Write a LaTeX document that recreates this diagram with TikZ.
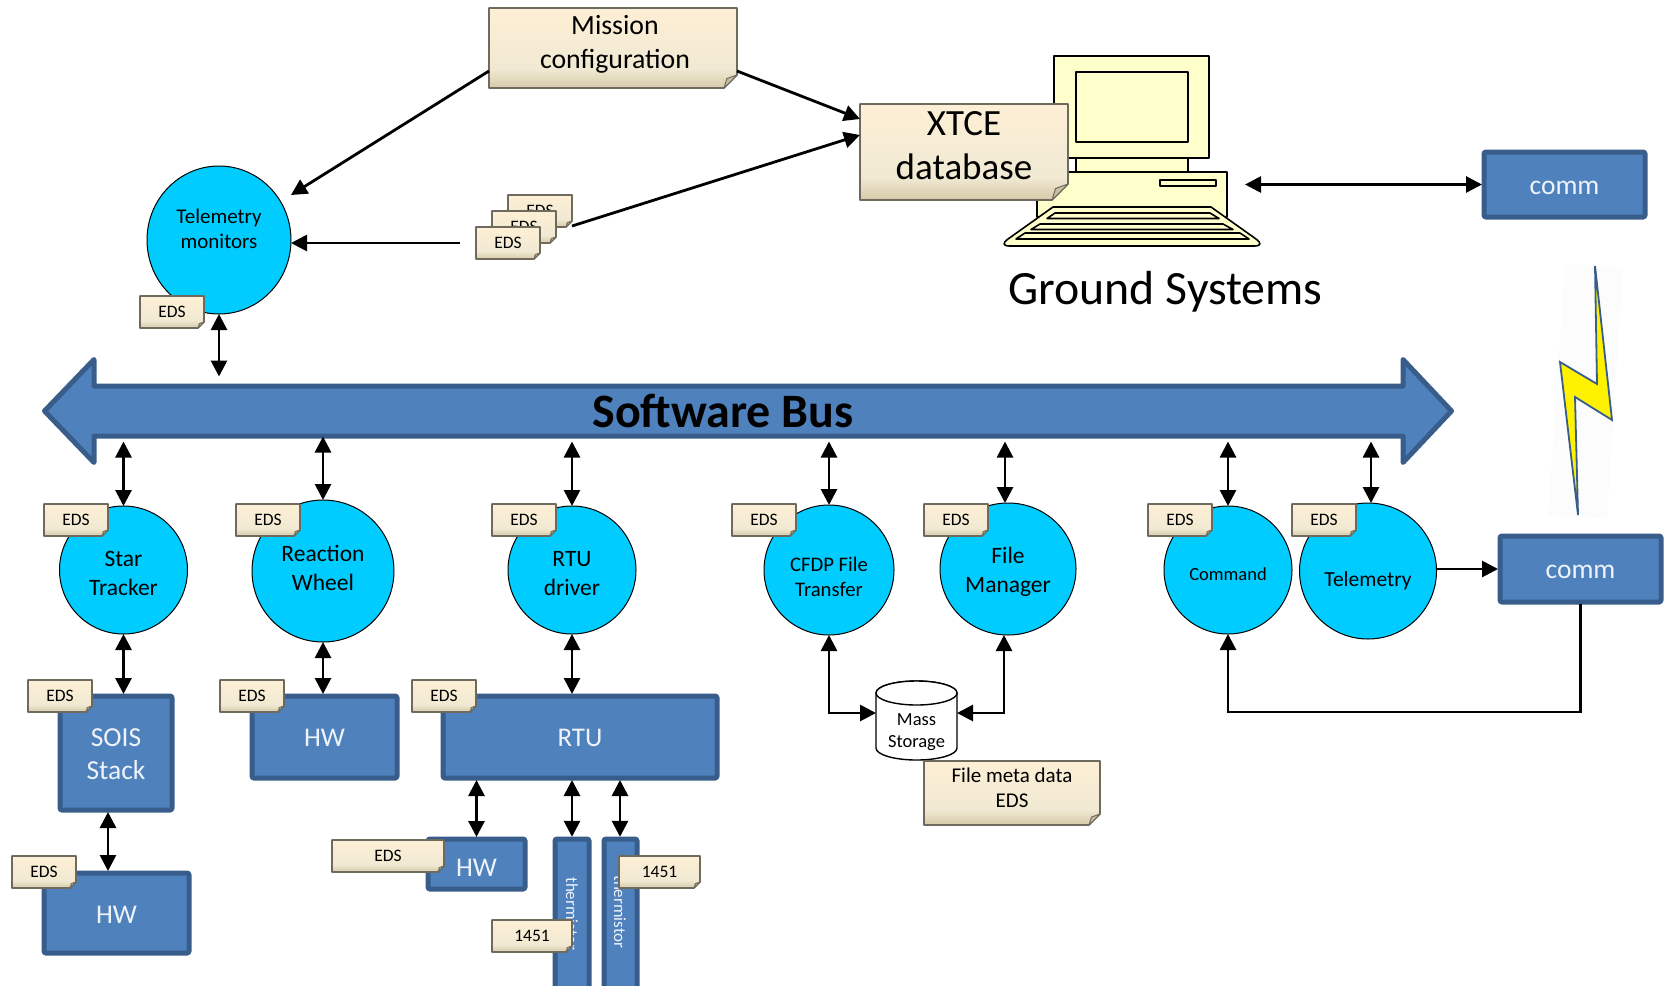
\documentclass[tikz,border=0pt]{standalone}
\usepackage{fontspec}
\setmainfont{Carlito}
\usetikzlibrary{arrows.meta,calc,shapes.geometric}
\definecolor{noteA}{HTML}{FDEFD5}
\definecolor{noteB}{HTML}{F1E9D3}
\definecolor{noteC}{HTML}{D5CAA8}
\definecolor{noteEdge}{HTML}{6F6A5E}
\definecolor{foldC}{HTML}{C9C0A2}
\definecolor{boxFill}{HTML}{4F81BD}
\definecolor{boxEdge}{HTML}{385D8A}
\definecolor{procFill}{HTML}{00CCFF}
\definecolor{pcFill}{HTML}{FFFFCC}
\definecolor{boltBg}{HTML}{FCFCFC}
\definecolor{boxText}{HTML}{EEF3FA}
\pgfdeclareverticalshading{notefill}{100bp}{color(0bp)=(noteC); color(25bp)=(noteC); color(37bp)=(noteB); color(75bp)=(noteA); color(100bp)=(noteA)}
\tikzset{
  bi/.style={line width=2.8pt,{Triangle[length=16pt,width=16pt]}-{Triangle[length=16pt,width=16pt]}},
  uni/.style={line width=2.8pt,-{Triangle[length=16pt,width=16pt]}},
  notepath/.style={shading=notefill,draw=noteEdge,line width=1.6pt,line join=round},
  foldpath/.style={fill=foldC,draw=noteEdge,line width=1pt,line join=round},
  notetext/.style={inner sep=0pt,outer sep=0pt,align=center,text=black},
  proc/.style={ellipse,draw=black,line width=1pt,fill=procFill,inner sep=0pt,outer sep=0pt},
  proclabel/.style={inner sep=0pt,outer sep=0pt,align=center,text=black},
  bluebox/.style={draw=boxEdge,fill=boxFill,line width=5pt,rounded corners=1.5pt,line join=round},
  boxlabel/.style={inner sep=0pt,outer sep=0pt,align=center,text=boxText},
  pc/.style={fill=pcFill,draw=black,line width=1.6pt,line join=round},
}
\def\noteoff{0}
\def\noteoffx{0}
% name, x0,y0,x1,y1, fold, font size, line gap, text
\newcommand\notebox[9]{%
  \path[notepath] (#2,#3) -- (#4,#3) -- (#4,{#5-#6}) -- ({#4-#6},#5) -- (#2,#5) -- cycle;
  \path[foldpath] (#4,{#5-#6}) -- ({#4-#6},#5) -- ({#4-0.78*#6},{#5-0.72*#6}) -- cycle;
  \node[notetext,minimum width={(#4-#2)*1pt},minimum height={(#5-#3)*1pt}] (#1) at ({(#2+#4)/2},{(#3+#5)/2}) {};
  \node[notetext,font=\fontsize{#7}{#8}\selectfont] (#1l) at ({(#2+#4)/2+\noteoffx},{(#3+#5)/2+\noteoff}) {#9};
}
% name, x0,y0,x1,y1, font size, line gap, text offset, text
\newcommand\blueboxat[9]{%
  \path[bluebox] ({#2+2},{#3+2}) rectangle ({#4-2},{#5-2});
  \node[boxlabel,minimum width={(#4-#2)*1pt},minimum height={(#5-#3)*1pt}] (#1) at ({(#2+#4)/2},{(#3+#5)/2}) {};
  \node[boxlabel,font=\fontsize{#6}{#7}\selectfont] (#1l) at ({(#2+#4)/2},{(#3+#5)/2+#8}) {#9};
}
% name, cx,cy, rx,ry, font size, line gap, text offset, text
\newcommand\procat[9]{%
  \node[proc,minimum width={2*#4*1pt},minimum height={2*#5*1pt}] (#1) at (#2,#3) {};
  \node[proclabel,font=\fontsize{#6}{#7}\selectfont] (#1l) at (#2,{#3+#8}) {#9};
}
\begin{document}
\begin{tikzpicture}[x=1pt,y=-1pt]
\useasboundingbox (0,0) rectangle (1667,985);
% computer
\path[pc] (1037,172) rectangle (1227,217);
\path[pc] (1076,158) rectangle (1188,172);
\path[pc] (1054,56) rectangle (1209,158);
\path[pc] (1076,72) rectangle (1188,142);
\path[pc] (1160,180) rectangle (1216,186);
\path[pc] (1053,207) -- (1211,207) -- (1256,239) .. controls (1262,243.5) and (1261,246) .. (1254,246) -- (1010,246) .. controls (1003,246) and (1002,243.5) .. (1008,239) -- cycle;
\path[pc] (1055,213) -- (1210,213) -- (1219,218.5) -- (1047,218.5) -- cycle;
\path[pc] (1040,224) -- (1223,224) -- (1233,229.5) -- (1031,229.5) -- cycle;
\path[pc] (1025,233) -- (1240,233) -- (1249,239) -- (1016,239) -- cycle;
\node[inner sep=0pt,font=\fontsize{47.8}{54}\selectfont] (gs) at (1165.5,291.5) {Ground Systems};
% lightning
\path[fill=boltBg] (1565,264) -- (1623,268) -- (1607,518) -- (1548,516) -- cycle;
\path[fill=yellow,draw=boxEdge,line width=1.8pt,line join=miter] (1595,266) -- (1612,420) -- (1575,397) -- (1578,515) -- (1560,362) -- (1597,384) -- cycle;
% notes top
\def\noteoff{-3.5}
\def\noteoffx{2}
\notebox{mission}{489}{8}{737}{88}{13}{27.8}{34}{Mission\\configuration}
\def\noteoffx{0}
\def\noteoff{-6.5}
\notebox{xtce}{860}{104}{1068}{200}{16}{37}{44.5}{XTCE\\database}
\def\noteoff{0}
\notebox{edsc}{508}{195}{572}{227}{6}{17.5}{21}{EDS}
\notebox{edsb}{492}{211}{556}{243}{6}{17.5}{21}{EDS}
\notebox{edsa}{476}{227}{540}{259}{6}{17.5}{21}{EDS}
% bus
\path[draw=boxEdge,fill=boxFill,line width=5pt,line join=round]
  (44.5,411) -- (94,359.5) -- (94,386) -- (1403,386) -- (1403,359.5) -- (1451.5,411) -- (1403,462.5) -- (1403,436) -- (94,436) -- (94,462.5) -- cycle;
\node[inner sep=0pt,outer sep=0pt,minimum width=1305pt,minimum height=52pt,font=\fontsize{48}{54}\selectfont\bfseries,text=black] (bus) at (723,410.5) {Software Bus};
% processes
\procat{tm}{219}{240}{72}{74}{21}{25.5}{-11}{Telemetry\\monitors}
\procat{star}{123.5}{570}{64}{64}{23.5}{29.3}{3.7}{Star\\Tracker}
\procat{rw}{323}{571}{71}{71}{23.5}{29}{-3}{Reaction\\Wheel}
\procat{rtud}{572}{570}{64}{64}{23.5}{29.3}{3.7}{RTU\\driver}
\procat{cfdp}{829}{570}{65}{65}{20.7}{25.5}{7}{CFDP File\\Transfer}
\procat{fm}{1008}{569}{68}{66}{23.5}{29}{3}{File\\Manager}
\procat{cmd}{1228}{570}{64}{64}{18.5}{22}{4}{Command}
\procat{tlm}{1368}{571}{68.5}{68}{21.5}{26}{9.5}{Telemetry}
% blue boxes
\blueboxat{commtop}{1482}{150}{1647}{219}{27.5}{33}{3}{comm}
\blueboxat{commlow}{1498}{534}{1663}{604}{27.5}{33}{3}{comm}
\blueboxat{sois}{58}{694}{174}{812}{27.5}{33}{1.5}{SOIS\\Stack}
\blueboxat{hwa}{250}{694}{399}{780}{27}{33}{1}{HW}
\blueboxat{rtu}{441}{694}{719}{780}{27}{33}{1}{RTU}
\blueboxat{hwb}{42}{871}{191}{955}{27}{33}{2}{HW}
\blueboxat{hwc}{426}{837}{527}{891}{27}{33}{3.5}{HW}
\path[bluebox] (555,839) rectangle (589,995);
\path[bluebox] (604,839) rectangle (637,995);
\node[inner sep=0pt,minimum width=38pt,minimum height=2pt] (tha) at (572,838) {};
\node[inner sep=0pt,minimum width=38pt,minimum height=2pt] (thb) at (620,838) {};
\node[boxlabel,rotate=-90,font=\fontsize{17}{20}\selectfont] (thal) at (572,914) {thermistor};
\node[boxlabel,rotate=-90,font=\fontsize{17}{20}\selectfont] (thbl) at (620,912) {thermistor};
% mass storage
\path[fill=white,draw=black,line width=1.4pt] (876,693) arc[start angle=180,end angle=360,x radius=40.5,y radius=12] -- (957,748) arc[start angle=0,end angle=180,x radius=40.5,y radius=12] -- cycle;
\path[fill=white,draw=black,line width=1.4pt] (916.5,693) ellipse[x radius=40.5,y radius=12];
\node[inner sep=0pt,outer sep=0pt,minimum width=81pt,minimum height=4pt] (ms) at (916.5,713) {};
\node[inner sep=0pt,align=center,font=\fontsize{18.5}{22}\selectfont] (msl) at (916.5,732) {Mass\\Storage};
% small notes
\notebox{edstm}{140}{296}{204}{328}{6}{17.5}{21}{EDS}
\notebox{edsstar}{44}{504}{108}{536}{6}{17.5}{21}{EDS}
\notebox{edsrw}{236}{504}{300}{536}{6}{17.5}{21}{EDS}
\notebox{edsrtud}{492}{504}{556}{536}{6}{17.5}{21}{EDS}
\notebox{edscfdp}{732}{504}{796}{536}{6}{17.5}{21}{EDS}
\notebox{edsfm}{924}{504}{988}{536}{6}{17.5}{21}{EDS}
\notebox{edscmd}{1148}{504}{1212}{536}{6}{17.5}{21}{EDS}
\notebox{edstlm}{1292}{504}{1356}{536}{6}{17.5}{21}{EDS}
\notebox{edssois}{28}{680}{92}{712}{6}{17.5}{21}{EDS}
\notebox{edshwa}{220}{680}{284}{712}{6}{17.5}{21}{EDS}
\notebox{edsrtu}{412}{680}{476}{712}{6}{17.5}{21}{EDS}
\notebox{edshwb}{12}{856}{76}{888}{6}{17.5}{21}{EDS}
\notebox{edshwc}{332}{840}{444}{872}{6}{17.5}{21}{EDS}
\notebox{ten}{492}{920}{572}{952}{6}{17.5}{21}{1451}
\notebox{tenb}{619}{856}{700}{888}{6}{17.5}{21}{1451}
\def\noteoff{-5}
\notebox{meta}{924}{761}{1100}{825}{11}{21}{25.5}{File meta data\\EDS}
\def\noteoff{0}
% connectors
\coordinate (pcport) at (1245,184.5);
\coordinate (tmport) at (291,195);
\draw[uni] ([yshift=-23pt]mission.east) -- ([yshift=33pt]xtce.west);
\draw[uni] ([yshift=-23pt]mission.west) -- (tmport);
\draw[uni] ([yshift=1pt]edsc.south east) -- ([yshift=17pt]xtce.west);
\draw[uni] ([xshift=-16pt]edsa.west) -- (tm.east |- edsa.west);
\draw[bi] (tm.south) -- ([yshift=8pt]bus.north -| tm.south);
\draw[bi] (star.north) -- ([yshift=-5pt]bus.south -| star.north);
\draw[bi] (rw.north) -- (bus.south -| rw.north);
\draw[bi] (rtud.north) -- ([yshift=-5pt]bus.south -| rtud.north);
\draw[bi] (cfdp.north) -- ([yshift=-5pt]bus.south -| cfdp.north);
\draw[bi] ([xshift=-3pt]fm.north) -- ([xshift=-3pt,yshift=-5pt]bus.south -| fm.north);
\draw[bi] (cmd.north) -- ([yshift=-5pt]bus.south -| cmd.north);
\draw[bi] ([xshift=3pt]tlm.north) -- ([xshift=3pt,yshift=-5pt]bus.south -| tlm.north);
\draw[bi] (star.south) -- (sois.north -| star.south);
\draw[bi] (rw.south) -- (hwa.north -| rw.south);
\draw[bi] (rtud.south) -- (rtu.north -| rtud.south);
\draw[bi] ([xshift=-8pt]hwb.north -| sois.south) -- ([xshift=-8pt]sois.south);
\draw[bi] (hwc.north) -- (rtu.south -| hwc.north);
\draw[bi] (tha.north) -- (rtu.south -| tha.north);
\draw[bi] (thb.north) -- (rtu.south -| thb.north);
\draw[bi] (cfdp.south) |- (ms.west);
\draw[bi] ([xshift=-4pt]fm.south) |- (ms.east);
\draw[bi] (pcport) -- (commtop.west);
\draw[uni] (tlm.east |- commlow.west) -- (commlow.west);
\draw[uni] (commlow.south) -- ++(0,108) -| (cmd.south);
\end{tikzpicture}
\end{document}
